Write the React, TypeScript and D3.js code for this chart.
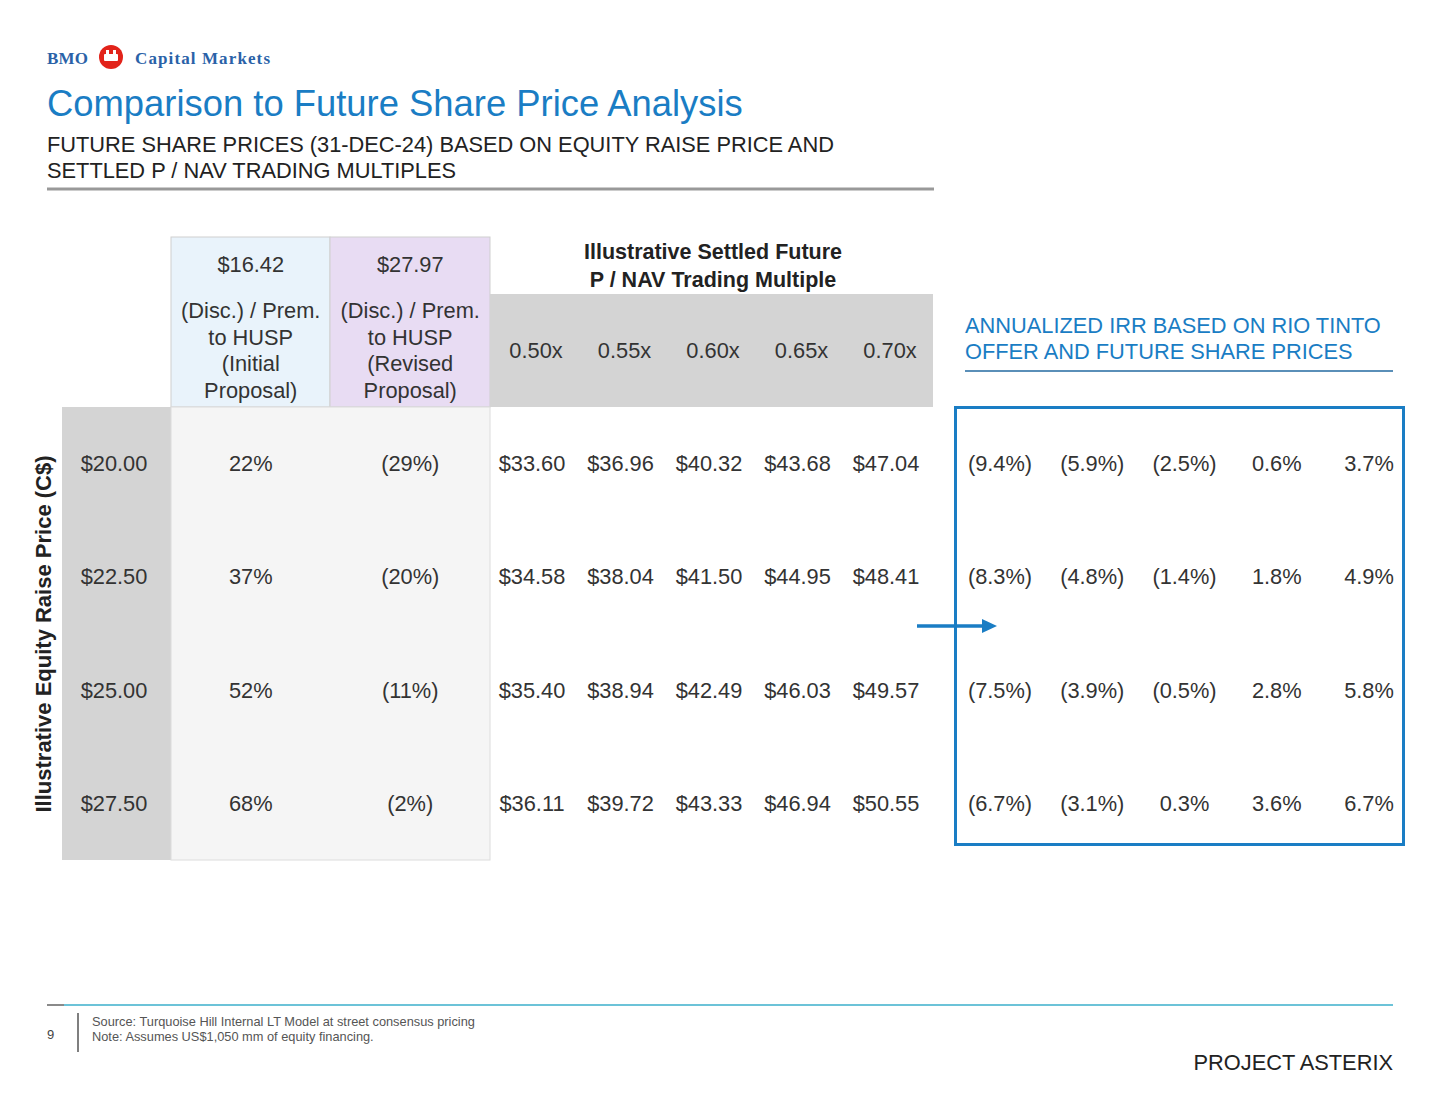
import React from "react";
import * as d3 from "d3";

const raisePrices = ["$20.00", "$22.50", "$25.00", "$27.50"];
const premInitial = ["22%", "37%", "52%", "68%"];
const premRevised = ["(29%)", "(20%)", "(11%)", "(2%)"];
const multiples = ["0.50x", "0.55x", "0.60x", "0.65x", "0.70x"];
const futurePrices = [
  ["$33.60", "$36.96", "$40.32", "$43.68", "$47.04"],
  ["$34.58", "$38.04", "$41.50", "$44.95", "$48.41"],
  ["$35.40", "$38.94", "$42.49", "$46.03", "$49.57"],
  ["$36.11", "$39.72", "$43.33", "$46.94", "$50.55"],
];
const irrValues = [
  ["(9.4%)", "(5.9%)", "(2.5%)", "0.6%", "3.7%"],
  ["(8.3%)", "(4.8%)", "(1.4%)", "1.8%", "4.9%"],
  ["(7.5%)", "(3.9%)", "(0.5%)", "2.8%", "5.8%"],
  ["(6.7%)", "(3.1%)", "0.3%", "3.6%", "6.7%"],
];
const offerPrices = ["$16.42", "$27.97"];

const FONT = "'Liberation Sans', Arial, Helvetica, sans-serif";
const BLUE = "#1a7dc4";
const TXT = "#333";
const FS = 21.8;

export default function App() {
  const W = 1439, H = 1112;
  const rowIdx = raisePrices.map((_, i) => String(i));
  const y = d3.scaleBand().domain(rowIdx).range([407, 860]);
  const yc = (i: number) => (y(String(i)) as number) + y.bandwidth() / 2;
  const xMult = d3.scalePoint().domain(multiples).range([532, 886]);
  const xIrr = d3.scalePoint().domain(multiples).range([1000, 1369]);
  const xOffer = d3.scaleBand().domain(["0", "1"]).range([171, 490]);
  const xoc = (i: number) => (xOffer(String(i)) as number) + xOffer.bandwidth() / 2;

  return (
    <svg width={W} height={H} viewBox={`0 0 ${W} ${H}`} style={{ position: "absolute", left: 0, top: 0, background: "#fff" }} fontFamily={FONT}>
      <rect width={W} height={H} fill="#fff" />
      {/* Logo */}
      <text x={47} y={64} fontFamily="'Liberation Serif', 'DejaVu Serif', serif" fontWeight="bold" fontSize={17} textLength={41} fill="#2a62a8">BMO</text>
      <circle cx={111} cy={57} r={12} fill="#e2231a" />
      <rect x={104} y={54} width={14} height={7} rx={1} fill="#fff" />
      <rect x={106} y={50} width={3} height={4} fill="#fff" />
      <rect x={113} y={50} width={3} height={4} fill="#fff" />
      <text x={135} y={64} fontFamily="'Liberation Serif', 'DejaVu Serif', serif" fontWeight="bold" fontSize={17} textLength={135} fill="#2a62a8">Capital Markets</text>

      {/* Title */}
      <text x={47} y={116} fontSize={36.4} fill={BLUE}>Comparison to Future Share Price Analysis</text>
      <text x={47} y={152} fontSize={FS} fill="#222">FUTURE SHARE PRICES (31-DEC-24) BASED ON EQUITY RAISE PRICE AND</text>
      <text x={47} y={178} fontSize={FS} fill="#222">SETTLED P / NAV TRADING MULTIPLES</text>
      <line x1={47} x2={934} y1={189} y2={189} stroke="#999" strokeWidth={3} />

      {/* Left gray column */}
      <rect x={62} y={407} width={109} height={453} fill="#d4d4d4" />
      {/* Offer header cells */}
      <rect x={171} y={237} width={159} height={170} fill="#e9f3fb" stroke="#cfcfcf" />
      <rect x={330} y={237} width={160} height={170} fill="#e8dcf3" stroke="#cfcfcf" />
      <rect x={171} y={407} width={319} height={453} fill="#f5f5f5" stroke="#dcdcdc" />
      {/* Multiples header */}
      <rect x={490} y={294} width={443} height={113} fill="#d4d4d4" />
      <text x={713} y={259} textAnchor="middle" fontSize={21.5} fontWeight="bold" fill="#222">Illustrative Settled Future</text>
      <text x={713} y={287} textAnchor="middle" fontSize={21.5} fontWeight="bold" fill="#222">P / NAV Trading Multiple</text>

      {offerPrices.map((p, i) => (
        <g key={p}>
          <text x={xoc(i)} y={272} textAnchor="middle" fontSize={FS} fill={TXT}>{p}</text>
          {["(Disc.) / Prem.", "to HUSP", i === 0 ? "(Initial" : "(Revised", "Proposal)"].map((t, k) => (
            <text key={k} x={xoc(i)} y={318 + k * 26.5} textAnchor="middle" fontSize={FS} fill={TXT}>{t}</text>
          ))}
        </g>
      ))}

      {multiples.map((m) => (
        <text key={m} x={(xMult(m) as number) + 4} y={350} dominantBaseline="central" textAnchor="middle" fontSize={FS} fill={TXT}>{m}</text>
      ))}

      {raisePrices.map((p, i) => (
        <g key={p}>
          <text x={114} y={yc(i)} dominantBaseline="central" textAnchor="middle" fontSize={FS} fill={TXT}>{p}</text>
          <text x={xoc(0)} y={yc(i)} dominantBaseline="central" textAnchor="middle" fontSize={FS} fill={TXT}>{premInitial[i]}</text>
          <text x={xoc(1)} y={yc(i)} dominantBaseline="central" textAnchor="middle" fontSize={FS} fill={TXT}>{premRevised[i]}</text>
          {futurePrices[i].map((v, j) => (
            <text key={j} x={xMult(multiples[j]) as number} y={yc(i)} dominantBaseline="central" textAnchor="middle" fontSize={FS} fill={TXT}>{v}</text>
          ))}
          {irrValues[i].map((v, j) => (
            <text key={"i" + j} x={xIrr(multiples[j]) as number} y={yc(i)} dominantBaseline="central" textAnchor="middle" fontSize={FS} fill={TXT}>{v}</text>
          ))}
        </g>
      ))}

      {/* Y axis label */}
      <text transform={`translate(43,634) rotate(-90)`} textAnchor="middle" dominantBaseline="central" fontSize={22} fontWeight="bold" fill="#222">Illustrative Equity Raise Price (C$)</text>

      {/* IRR header */}
      <text x={965} y={333} fontSize={FS} fill={BLUE}>ANNUALIZED IRR BASED ON RIO TINTO</text>
      <text x={965} y={359} fontSize={FS} fill={BLUE}>OFFER AND FUTURE SHARE PRICES</text>
      <line x1={965} x2={1393} y1={371} y2={371} stroke="#5a8fb8" strokeWidth={2} />
      <rect x={955.5} y={407.5} width={448} height={437} fill="none" stroke={BLUE} strokeWidth={3} />

      {/* Arrow */}
      <line x1={917} x2={984} y1={626} y2={626} stroke={BLUE} strokeWidth={3.5} />
      <path d="M982,619 L997,626 L982,633 Z" fill={BLUE} />

      {/* Footer */}
      <line x1={47} x2={64} y1={1005} y2={1005} stroke="#8a8a8a" strokeWidth={2} />
      <line x1={64} x2={1393} y1={1005} y2={1005} stroke="#6cc3d8" strokeWidth={2} />
      <text x={47} y={1039} fontSize={13} fill="#444">9</text>
      <line x1={78} x2={78} y1={1013} y2={1052} stroke="#555" strokeWidth={1.5} />
      <text x={92} y={1026} fontSize={12.8} fill="#555">Source: Turquoise Hill Internal LT Model at street consensus pricing</text>
      <text x={92} y={1041} fontSize={12.8} fill="#555">Note: Assumes US$1,050 mm of equity financing.</text>
      <text x={1393} y={1070} textAnchor="end" fontSize={FS} fill="#222">PROJECT ASTERIX</text>
    </svg>
  );
}
